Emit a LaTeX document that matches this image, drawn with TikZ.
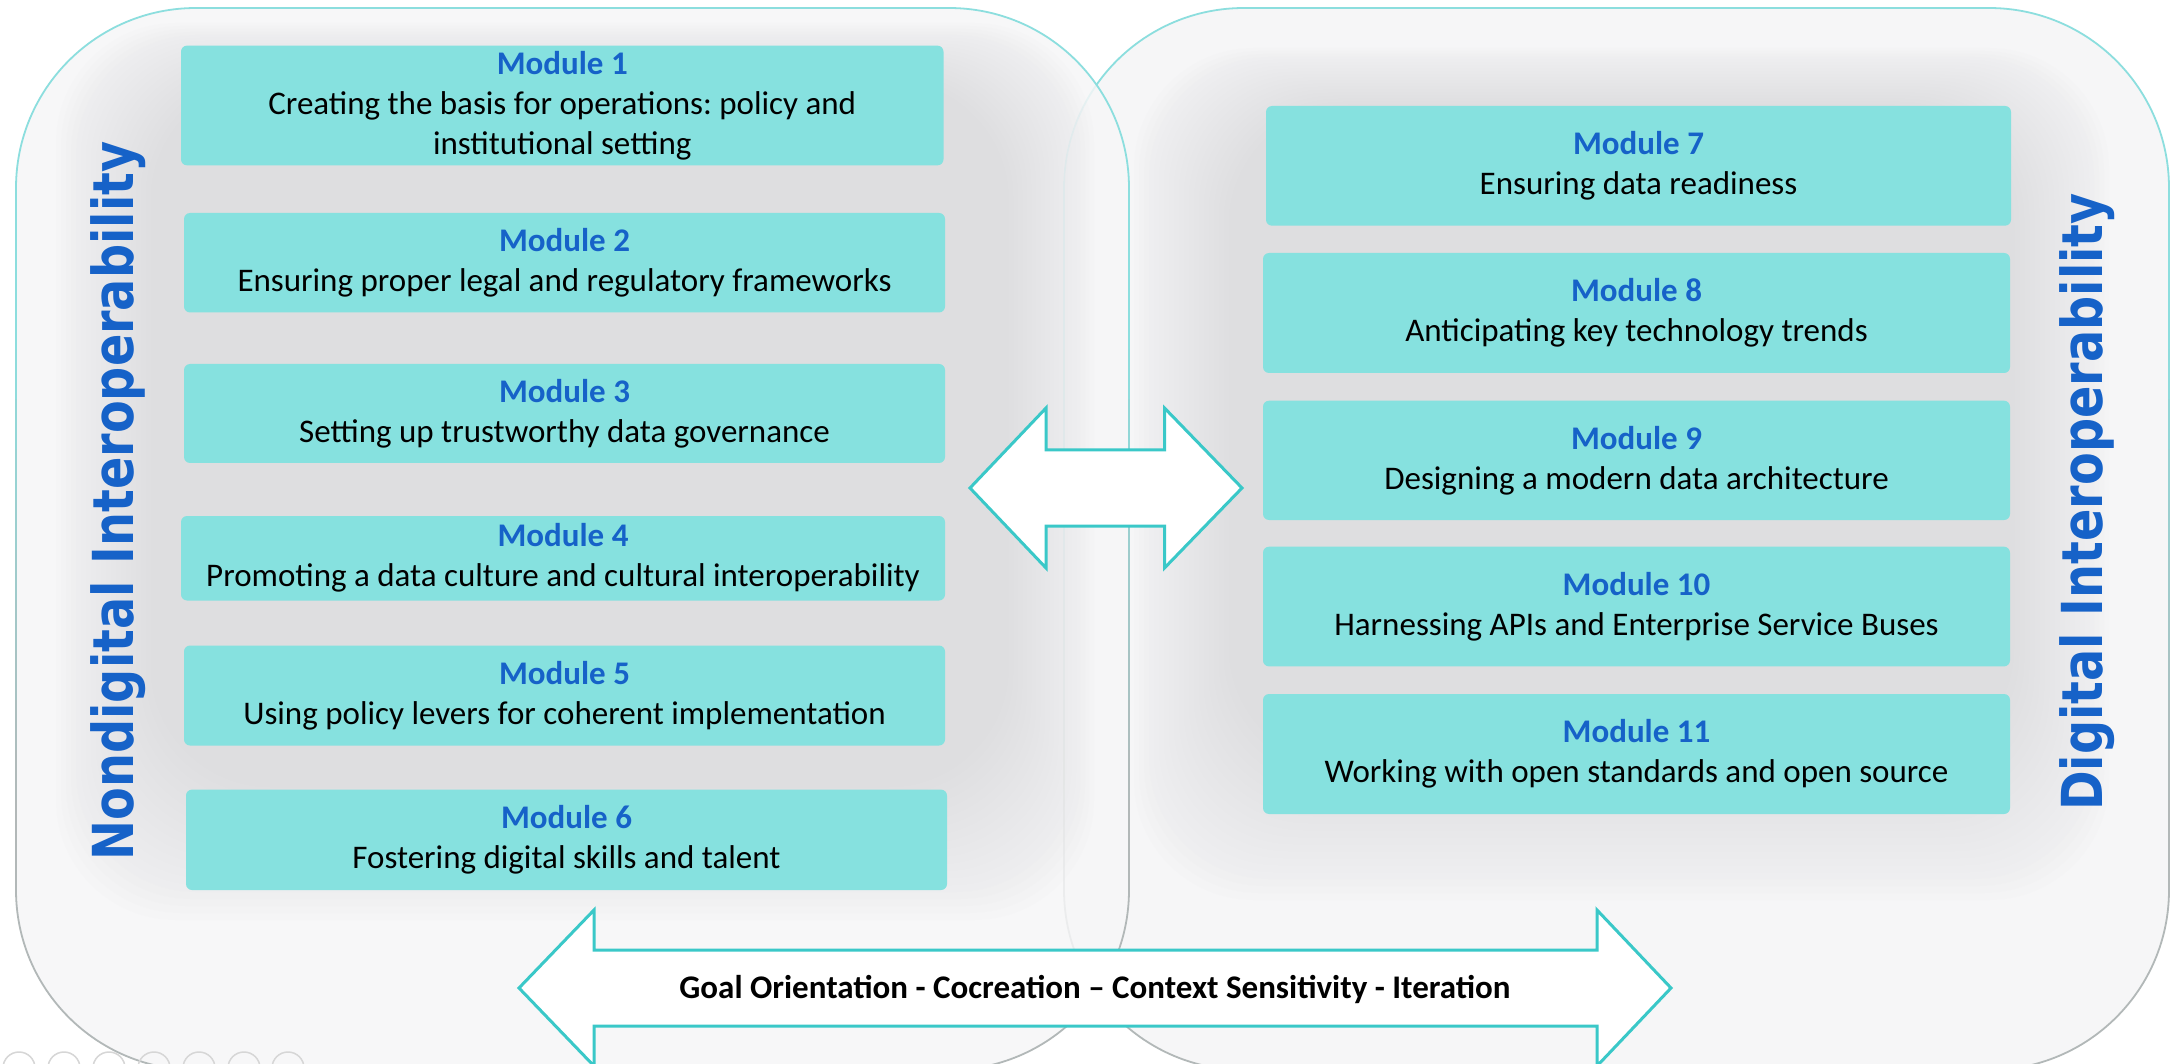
\documentclass[tikz,border=0pt]{standalone}
\usepackage{fontspec}
\setmainfont{Carlito}
\newfontfamily\vertfont{DejaVu Sans}
\definecolor{boxfill}{RGB}{134,225,223}
\definecolor{titleblue}{RGB}{22,98,200}
\definecolor{arrowline}{RGB}{58,200,200}
\definecolor{panelfill}{RGB}{246,246,247}
\definecolor{glowgrey}{RGB}{220,220,223}
\definecolor{bordercyan}{RGB}{140,222,222}
\definecolor{bordergrey}{RGB}{178,184,184}
\definecolor{icongrey}{RGB}{214,214,214}
\tikzset{
  modbox/.style={fill=boxfill, rounded corners=6pt, inner sep=0pt, align=center,
    font=\fontsize{33}{40}\selectfont, text=black},
  panelborder/.style={line width=1.8pt, rounded corners=180pt},
  bigarrow/.style={draw=arrowline, fill=white, line width=3pt},
  vertlabel/.style={rotate=90, anchor=base, text=titleblue,
    font=\vertfont\bfseries\fontsize{56.5}{60}\selectfont},
  mottotext/.style={anchor=base, font=\bfseries\fontsize{33}{40}\selectfont, text=black},
  glowlayer/.style={fill=glowgrey, opacity=0.055, rounded corners=120pt},
  iconring/.style={draw=icongrey, line width=1.5pt}
}
\newcommand{\modtitle}[1]{{\color{titleblue}\bfseries #1}}
% border drawn cyan at top, grey at bottom, blended in between
\newcommand{\blendborder}[4]{%
  \begin{scope}\clip (0,0) rectangle (2172,350);
    \draw[panelborder, bordercyan] (#1,#2) rectangle (#3,#4);\end{scope}
  \foreach \k in {0,...,8}{
    \pgfmathtruncatemacro\pc{100-11*\k-6}
    \begin{scope}\clip (0,{350+50*\k}) rectangle (2172,{400+50*\k});
      \draw[panelborder, bordercyan!\pc!bordergrey] (#1,#2) rectangle (#3,#4);\end{scope}
  }
  \begin{scope}\clip (0,800) rectangle (2172,1100);
    \draw[panelborder, bordergrey] (#1,#2) rectangle (#3,#4);\end{scope}
}
\frenchspacing
\begin{document}
\begin{tikzpicture}[x=1pt,y=-1pt]
\useasboundingbox (0,0) rectangle (2172,1064);
\clip (0,0) rectangle (2172,1064);
\fill[white] (0,0) rectangle (2172,1064);

% right panel
\fill[panelfill, rounded corners=180pt] (1064,8) rectangle (2169,1070);
\foreach \i in {0,...,19}{
  \fill[glowlayer] ({1134+5*\i},{48+3*\i}) rectangle ({2109-5*\i},{900-7*\i});
}
\blendborder{1064}{8}{2169}{1070}

% left panel
\fill[panelfill, opacity=0.85, rounded corners=180pt] (16,8) rectangle (1129,1070);
\foreach \i in {0,...,19}{
  \fill[glowlayer] ({56+5*\i},{23+3*\i}) rectangle ({1094-4.5*\i},{920-7*\i});
}
\blendborder{16}{8}{1129}{1070}

% vertical labels
\node[vertlabel] (nondig) at (133,501) {\scalebox{0.845}[1]{Nondigital Interoperability}};
\node[vertlabel] (dig) at (2102,502) {\scalebox{0.845}[1]{Digital Interoperability}};

% left modules
\node[modbox, minimum width=762.5, minimum height=119.7] (m1) at (562.25,105.5)
  {\modtitle{Module 1}\\Creating the basis for operations: policy and\\institutional setting};
\node[modbox, minimum width=761, minimum height=99.5] (m2) at (564.5,262.75)
  {\modtitle{Module 2}\\Ensuring proper legal and regulatory frameworks};
\node[modbox, minimum width=761, minimum height=99] (m3) at (564.5,413.5)
  {\modtitle{Module 3}\\Setting up trustworthy data governance};
\node[modbox, minimum width=764, minimum height=84.5] (m4) at (563,558.25)
  {\modtitle{Module 4}\\Promoting a data culture and cultural interoperability};
\node[modbox, minimum width=761, minimum height=100] (m5) at (564.5,695.5)
  {\modtitle{Module 5}\\Using policy levers for coherent implementation};
\node[modbox, minimum width=761, minimum height=100.4] (m6) at (566.5,839.8)
  {\modtitle{Module 6}\\Fostering digital skills and talent};

% right modules
\node[modbox, minimum width=745, minimum height=119.7] (m7) at (1638.5,165.85)
  {\modtitle{Module 7}\\Ensuring data readiness};
\node[modbox, minimum width=747, minimum height=120] (m8) at (1636.5,313)
  {\modtitle{Module 8}\\Anticipating key technology trends};
\node[modbox, minimum width=747, minimum height=119.3] (m9) at (1636.5,460.35)
  {\modtitle{Module 9}\\Designing a modern data architecture};
\node[modbox, minimum width=747, minimum height=119.7] (m10) at (1636.5,606.55)
  {\modtitle{Module 10}\\Harnessing APIs and Enterprise Service Buses};
\node[modbox, minimum width=747, minimum height=120] (m11) at (1636.5,754)
  {\modtitle{Module 11}\\Working with open standards and open source};

% middle double arrow
\draw[bigarrow] (970,488) -- (1046,408) -- (1046,450) -- (1164.5,450) -- (1164.5,408)
  -- (1242,488) -- (1164.5,568) -- (1164.5,526) -- (1046,526) -- (1046,568) -- cycle;

% bottom double arrow
\draw[bigarrow] (519,988) -- (594,910) -- (594,950) -- (1597,950) -- (1597,910)
  -- (1671,988) -- (1597,1066) -- (1597,1026) -- (594,1026) -- (594,1066) -- cycle;
\node[mottotext] (motto) at (1095,998) {Goal Orientation - Cocreation – Context Sensitivity - Iteration};

% faint toolbar rings
\foreach \cx in {19,64,109,154,199,244,288}{
  \draw[iconring] (\cx,1068) circle[radius=16];
}
\end{tikzpicture}
\end{document}
